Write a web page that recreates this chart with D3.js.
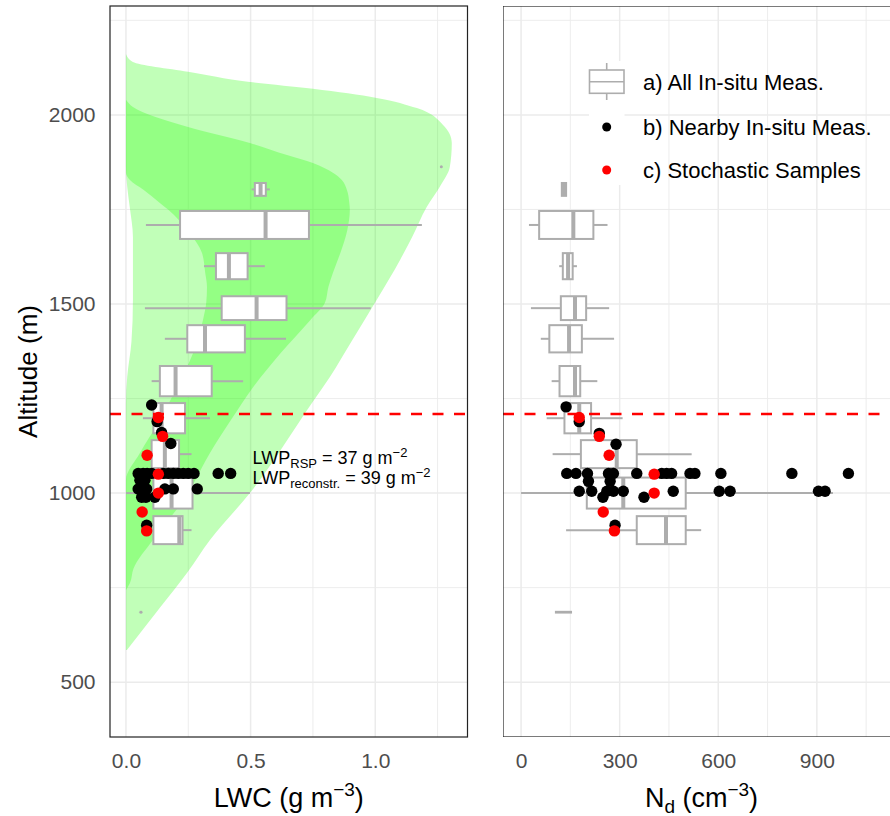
<!DOCTYPE html>
<html>
<head>
<meta charset="utf-8">
<title>LWC and Nd profiles</title>
<script src="https://cdnjs.cloudflare.com/ajax/libs/d3/7.8.5/d3.min.js"></script>
<style>
  body { margin: 0; background: #fff; }
  svg text { font-family: "Liberation Sans", Arial, Helvetica, sans-serif; }
</style>
</head>
<body>
<div id="chart"></div>
<script>
// ---- data ----
// boxplot altitude bins (m) and drawn box thickness (m)
const binAlt   = [1803, 1709, 1600, 1489, 1408, 1296, 1198, 1103, 1000, 902, 685];
const binThick = [34, 74, 69, 63, 72, 80, 80, 74, 82, 74, 2];

// LWC (g m-3) box stats per bin
const lwcLo  = [0.504, 0.080, 0.313, 0.076, 0.156, 0.103, 0.068, 0.063, 0.000, 0.068, 0.058];
const lwcQ1  = [0.517, 0.217, 0.361, 0.384, 0.246, 0.136, 0.110, 0.103, 0.110, 0.110, 0.059];
const lwcMed = [0.540, 0.560, 0.413, 0.524, 0.317, 0.199, 0.143, 0.156, 0.183, 0.214, 0.060];
const lwcQ3  = [0.561, 0.734, 0.488, 0.644, 0.477, 0.344, 0.237, 0.213, 0.267, 0.227, 0.061];
const lwcHi  = [0.577, 1.187, 0.557, 0.982, 0.642, 0.470, 0.337, 0.263, 0.497, 0.263, 0.062];
const lwcOutAlt = [1863];
const lwcOutVal = [1.265];

// Nd (cm-3) box stats per bin
const ndLo  = [122,  24, 116,  30,  60,  93,  78,  96,   0, 137, 106];
const ndQ1  = [124,  55, 127, 121,  86, 117, 132, 182, 200, 352, 106];
const ndMed = [131, 159, 143, 164, 146, 164, 177, 291, 311, 441, 129];
const ndQ3  = [137, 220, 157, 198, 185, 180, 213, 352, 501, 501, 152];
const ndHi  = [139, 263, 170, 268, 283, 232, 309, 519, 949, 548, 152];

// reconstructed LWC envelopes (outer = wide, inner = core)
const outerAlt = [2161, 2140, 2114, 2087, 2069, 2045, 2018, 1974, 1926, 1862, 1810, 1757, 1677, 1616, 1511, 1400, 1307, 1238, 1000, 876, 788, 700, 585];
const outerLo  = [0, 0, 0, 0, 0, 0, 0, 0, 0, 0, 0.005, 0.015, 0.028, 0.028, 0.028, 0.022, 0.005, 0, 0, 0, 0, 0, 0];
const outerHi  = [0, 0.028, 0.249, 0.497, 0.750, 1.006, 1.167, 1.271, 1.307, 1.299, 1.259, 1.207, 1.148, 1.099, 1.006, 0.904, 0.818, 0.746, 0.497, 0.337, 0.244, 0.140, 0.004];
const innerAlt = [2040, 2021, 1968, 1926, 1894, 1873, 1847, 1828, 1802, 1767, 1749, 1696, 1635, 1582, 1545, 1503, 1458, 1370, 1280, 1193, 1106, 1034, 1008, 876, 800, 762, 743];
const innerLo  = [0, 0, 0, 0, 0, 0, 0, 0.016, 0.07, 0.136, 0.170, 0.245, 0.305, 0.318, 0.325, 0.322, 0.309, 0.269, 0.204, 0.136, 0.056, 0, 0, 0, 0, 0, 0];
const innerHi  = [0, 0.028, 0.249, 0.497, 0.646, 0.750, 0.830, 0.866, 0.886, 0.896, 0.898, 0.888, 0.860, 0.830, 0.812, 0.798, 0.740, 0.620, 0.510, 0.421, 0.337, 0.278, 0.257, 0.108, 0.030, 0.016, 0];

// nearby in-situ measurements, grouped by altitude row
const lwcRowAlt  = [1233, 1189, 1160, 1131, 1052, 1034, 1011, 989, 915];
const lwcRowVals = [
  [0.103], [0.125], [0.143], [0.180],
  [0.049, 0.069, 0.085, 0.103, 0.150, 0.170, 0.190, 0.210, 0.230, 0.250, 0.273, 0.370, 0.420],
  [0.056, 0.076],
  [0.049, 0.063, 0.083, 0.156, 0.190, 0.286],
  [0.063, 0.080, 0.116],
  [0.083]
];
const ndRowAlt  = [1228, 1189, 1158, 1129, 1052, 1031, 1005, 989, 915];
const ndRowVals = [
  [137], [177], [238], [289],
  [139, 167, 202, 266, 281, 352, 428, 443, 458, 514, 529, 608, 824, 996],
  [205, 271],
  [177, 215, 261, 281, 311, 463, 603, 636, 905, 925],
  [249, 374],
  [286]
];

// stochastic samples
const stochAlt = [1200, 1150, 1100, 1050, 1000, 950, 900];
const stochLwc = [0.130, 0.147, 0.085, 0.130, 0.130, 0.065, 0.083];
const stochNd  = [177, 238, 268, 405, 405, 250, 284];

const cloudTopAlt = 1209;

const altTicks = [500, 1000, 1500, 2000], altMinor = [750, 1250, 1750, 2250];
const lwcTicks = [0, 0.5, 1.0],           lwcMinor = [0.25, 0.75, 1.25];
const ndTicks  = [0, 300, 600, 900],      ndMinor  = [150, 450, 750, 1050];

const legendLabels = ["a) All In-situ Meas.", "b) Nearby In-situ Meas.", "c) Stochastic Samples"];

// ---- layout ----
const W = 890, H = 816;
const plotTop = 6, plotBottom = 737;
const L = { x0: 110, x1: 467.5 };
const R = { x0: 503, x1: 900 };
const boxGrey = "#adadad";

const svg = d3.select("#chart").append("svg").attr("width", W).attr("height", H);

const y = d3.scaleLinear().domain([355, 2288]).range([plotBottom, plotTop]);
const xL = d3.scaleLinear().domain([-0.064, 1.370]).range([L.x0, L.x1]);
const xR = d3.scaleLinear().domain([-55, 1153]).range([R.x0, R.x1]);

svg.append("defs").append("clipPath").attr("id", "clipR")
  .append("rect").attr("x", R.x0).attr("y", plotTop).attr("width", R.x1 - R.x0).attr("height", plotBottom - plotTop);

function panel(x, P, major, minor, clip) {
  const g = svg.append("g");
  if (clip) g.attr("clip-path", "url(#clipR)");
  g.append("rect").attr("x", P.x0).attr("y", plotTop).attr("width", P.x1 - P.x0).attr("height", plotBottom - plotTop).attr("fill", "#fff");
  const grid = g.append("g").attr("stroke", "#ebebeb");
  altMinor.forEach(a => grid.append("line").attr("x1", P.x0).attr("x2", P.x1).attr("y1", y(a)).attr("y2", y(a)).attr("stroke-width", 0.9));
  minor.forEach(v => grid.append("line").attr("x1", x(v)).attr("x2", x(v)).attr("y1", plotTop).attr("y2", plotBottom).attr("stroke-width", 0.9));
  altTicks.forEach(a => grid.append("line").attr("x1", P.x0).attr("x2", P.x1).attr("y1", y(a)).attr("y2", y(a)).attr("stroke-width", 1.5));
  major.forEach(v => grid.append("line").attr("x1", x(v)).attr("x2", x(v)).attr("y1", plotTop).attr("y2", plotBottom).attr("stroke-width", 1.5));
  return g;
}

function boxes(g, x, lo, q1, med, q3, hi) {
  binAlt.forEach((a, i) => {
    const yc = y(a), yt = y(a + binThick[i] / 2), yb = y(a - binThick[i] / 2);
    g.append("line").attr("x1", x(lo[i])).attr("x2", x(q1[i])).attr("y1", yc).attr("y2", yc)
      .attr("stroke", boxGrey).attr("stroke-width", 2);
    g.append("line").attr("x1", x(q3[i])).attr("x2", x(hi[i])).attr("y1", yc).attr("y2", yc)
      .attr("stroke", boxGrey).attr("stroke-width", 2);
    g.append("rect").attr("x", x(q1[i])).attr("y", yt).attr("width", Math.max(0, x(q3[i]) - x(q1[i])))
      .attr("height", yb - yt).attr("fill", "#fff").attr("stroke", boxGrey).attr("stroke-width", 2);
    g.append("line").attr("x1", x(med[i])).attr("x2", x(med[i])).attr("y1", yt).attr("y2", yb)
      .attr("stroke", boxGrey).attr("stroke-width", 4);
  });
}

function dashLine(g, P) {
  g.append("line").attr("x1", P.x0).attr("x2", P.x1).attr("y1", y(cloudTopAlt)).attr("y2", y(cloudTopAlt))
    .attr("stroke", "#ff0000").attr("stroke-width", 2.5).attr("stroke-dasharray", "11,10.5");
}

function points(g, x, rowAlt, rowVals) {
  rowAlt.forEach((a, i) => rowVals[i].forEach(v => {
    g.append("circle").attr("cx", x(v)).attr("cy", y(a)).attr("r", 5.7).attr("fill", "#000");
  }));
}

function stoch(g, x, vals) {
  g.selectAll(null).data(stochAlt).join("circle")
    .attr("cx", (d, i) => x(vals[i])).attr("cy", d => y(d)).attr("r", 5.7).attr("fill", "#ff0000");
}

// ---- left panel: LWC ----
const gL = panel(xL, L, lwcTicks, lwcMinor, false);
const area = (lo, hi) => d3.area().curve(d3.curveMonotoneY)
  .y(d => y(d)).x0((d, i) => xL(lo[i])).x1((d, i) => xL(hi[i]));
gL.append("path").attr("d", area(outerLo, outerHi)(outerAlt)).attr("fill", "#20ff00").attr("fill-opacity", 0.28);
gL.append("path").attr("d", area(innerLo, innerHi)(innerAlt)).attr("fill", "#20ff00").attr("fill-opacity", 0.28);
boxes(gL, xL, lwcLo, lwcQ1, lwcMed, lwcQ3, lwcHi);
lwcOutAlt.forEach((a, i) => gL.append("circle").attr("cx", xL(lwcOutVal[i])).attr("cy", y(a)).attr("r", 1.5).attr("fill", boxGrey));
dashLine(gL, L);
points(gL, xL, lwcRowAlt, lwcRowVals);
stoch(gL, xL, stochLwc);

// LWP annotation
const ann = gL.append("g").attr("font-size", 18).attr("fill", "#000");
const t1 = ann.append("text").attr("x", xL(0.508)).attr("y", y(1078));
t1.append("tspan").text("LWP");
t1.append("tspan").attr("font-size", 13).attr("dy", 4).text("RSP");
t1.append("tspan").attr("dy", -4).text(" = 37 g m");
t1.append("tspan").attr("font-size", 13).attr("dy", -7).text("\u22122");
const t2 = ann.append("text").attr("x", xL(0.508)).attr("y", y(1023));
t2.append("tspan").text("LWP");
t2.append("tspan").attr("font-size", 13).attr("dy", 4).text("reconstr.");
t2.append("tspan").attr("dy", -4).text(" = 39 g m");
t2.append("tspan").attr("font-size", 13).attr("dy", -7).text("\u22122");

gL.append("rect").attr("x", L.x0).attr("y", plotTop).attr("width", L.x1 - L.x0).attr("height", plotBottom - plotTop)
  .attr("fill", "none").attr("stroke", "#222").attr("stroke-width", 1.2);

// ---- right panel: Nd ----
const gR = panel(xR, R, ndTicks, ndMinor, true);
boxes(gR, xR, ndLo, ndQ1, ndMed, ndQ3, ndHi);
dashLine(gR, R);
points(gR, xR, ndRowAlt, ndRowVals);
stoch(gR, xR, stochNd);
gR.append("rect").attr("x", R.x0).attr("y", plotTop).attr("width", R.x1 - R.x0).attr("height", plotBottom - plotTop)
  .attr("fill", "none").attr("stroke", "#222").attr("stroke-width", 1.2);

// legend
const lg = svg.append("g");
const keyY = [82, 127, 170];
lg.append("rect").attr("x", 589).attr("y", 61).attr("width", 35.5).attr("height", 124).attr("fill", "#fff");
lg.append("line").attr("x1", 606.7).attr("x2", 606.7).attr("y1", 63).attr("y2", 100).attr("stroke", boxGrey).attr("stroke-width", 1.6);
lg.append("rect").attr("x", 589.5).attr("y", 70).attr("width", 34.5).attr("height", 23.3).attr("fill", "#fff").attr("stroke", boxGrey).attr("stroke-width", 1.6);
lg.append("line").attr("x1", 589.5).attr("x2", 624).attr("y1", 81.7).attr("y2", 81.7).attr("stroke", boxGrey).attr("stroke-width", 1.6);
lg.append("circle").attr("cx", 606.7).attr("cy", keyY[1]).attr("r", 4.5).attr("fill", "#000");
lg.append("circle").attr("cx", 606.7).attr("cy", keyY[2]).attr("r", 4.5).attr("fill", "#ff0000");
legendLabels.forEach((t, i) => lg.append("text").attr("x", 643).attr("y", keyY[i]).attr("dy", "0.36em")
  .attr("font-size", 22).attr("fill", "#000").text(t));

// ---- axes ----
function styleAxis(g) {
  g.select(".domain").remove();
  g.selectAll("text").attr("font-size", 21).attr("fill", "#4d4d4d")
    .style("font-family", '"Liberation Sans", Arial, sans-serif');
}
svg.append("g").attr("transform", `translate(0,${plotBottom})`)
  .call(d3.axisBottom(xL).tickValues(lwcTicks).tickFormat(d3.format(".1f")).tickSize(0).tickPadding(16)).call(styleAxis);
svg.append("g").attr("transform", `translate(0,${plotBottom})`)
  .call(d3.axisBottom(xR).tickValues(ndTicks).tickFormat(d3.format("d")).tickSize(0).tickPadding(16)).call(styleAxis);
svg.append("g").attr("transform", `translate(${L.x0},0)`)
  .call(d3.axisLeft(y).tickValues(altTicks).tickFormat(d3.format("d")).tickSize(0).tickPadding(14.5)).call(styleAxis);

// axis titles
const tL = svg.append("text").attr("x", (L.x0 + L.x1) / 2).attr("y", 807).attr("text-anchor", "middle").attr("font-size", 27).attr("fill", "#000");
tL.append("tspan").text("LWC (g m");
tL.append("tspan").attr("font-size", 19).attr("dy", -11).text("\u22123");
tL.append("tspan").attr("dy", 11).text(")");

const tR = svg.append("text").attr("x", (R.x0 + R.x1) / 2).attr("y", 807).attr("text-anchor", "middle").attr("font-size", 27).attr("fill", "#000");
tR.append("tspan").text("N");
tR.append("tspan").attr("font-size", 19).attr("dy", 6).text("d");
tR.append("tspan").attr("dy", -6).text(" (cm");
tR.append("tspan").attr("font-size", 19).attr("dy", -11).text("\u22123");
tR.append("tspan").attr("dy", 11).text(")");

svg.append("text").attr("transform", `translate(37,${(plotTop + plotBottom) / 2}) rotate(-90)`)
  .attr("text-anchor", "middle").attr("font-size", 26).attr("fill", "#000").text("Altitude (m)");
</script>
</body>
</html>
